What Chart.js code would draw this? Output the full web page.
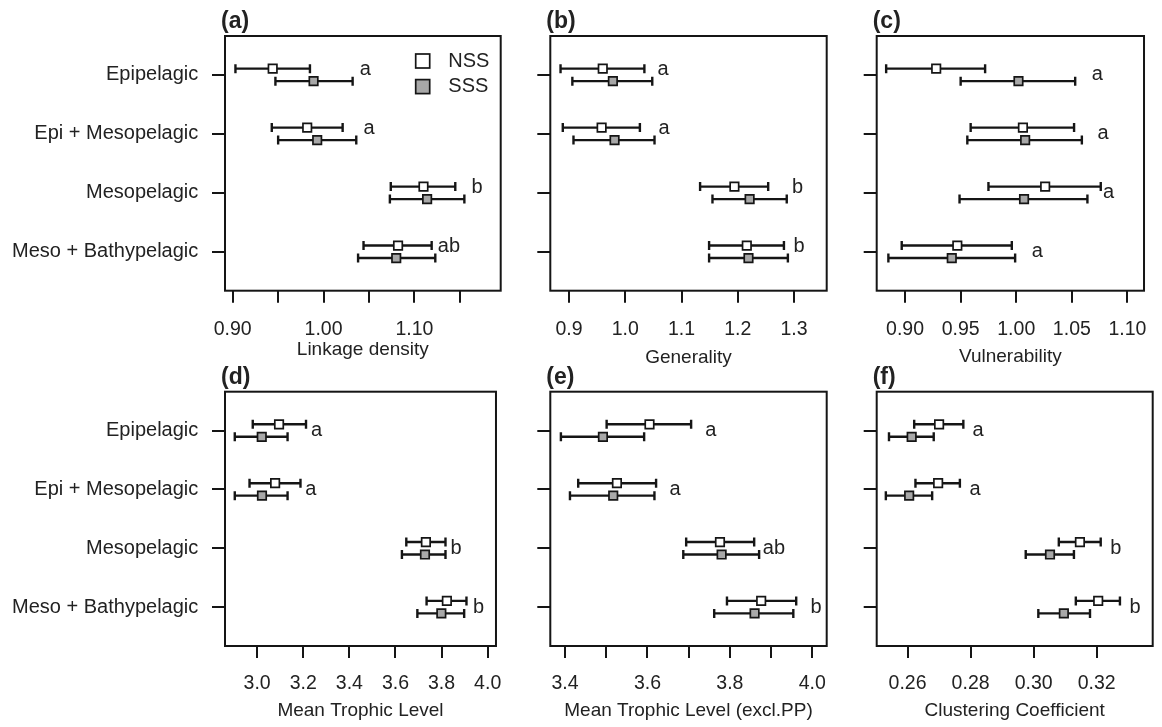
<!DOCTYPE html>
<html>
<head>
<meta charset="utf-8">
<script src="https://cdn.jsdelivr.net/npm/chart.js@4.4.1/dist/chart.umd.min.js"></script>
<style>
  body { margin: 0; background: #fff; width: 1162px; height: 727px; position: relative; overflow: hidden; }
  canvas { position: absolute; }
</style>
</head>
<body>
<script>
var zones = ['Epipelagic', 'Epi + Mesopelagic', 'Mesopelagic', 'Meso + Bathypelagic']
var groups = ['NSS', 'SSS']

// (a) Linkage density
var linkNss = [0.944, 0.982, 1.110, 1.082]
var linkNssLo = [0.903, 0.943, 1.074, 1.044]
var linkNssHi = [0.985, 1.021, 1.145, 1.119]
var linkSss = [0.989, 0.993, 1.114, 1.080]
var linkSssLo = [0.947, 0.950, 1.073, 1.038]
var linkSssHi = [1.032, 1.036, 1.155, 1.123]
var linkLetters = ['a', 'a', 'b', 'ab']
var linkLetterX = [1.046, 1.050, 1.169, 1.138]
var linkTicks = [0.90, 0.95, 1.00, 1.05, 1.10, 1.15]
var linkTickLabels = ['0.90', '', '1.00', '', '1.10', '']

// (b) Generality
var genNss = [0.960, 0.958, 1.194, 1.216]
var genNssLo = [0.885, 0.889, 1.133, 1.149]
var genNssHi = [1.034, 1.026, 1.254, 1.282]
var genSss = [0.978, 0.981, 1.221, 1.219]
var genSssLo = [0.906, 0.908, 1.155, 1.149]
var genSssHi = [1.048, 1.052, 1.287, 1.289]
var genLetters = ['a', 'a', 'b', 'b']
var genLetterX = [1.067, 1.069, 1.306, 1.309]
var genTicks = [0.9, 1.0, 1.1, 1.2, 1.3]
var genTickLabels = ['0.9', '1.0', '1.1', '1.2', '1.3']

// (c) Vulnerability
var vulNss = [0.928, 1.006, 1.026, 0.947]
var vulNssLo = [0.883, 0.959, 0.975, 0.897]
var vulNssHi = [0.972, 1.052, 1.076, 0.996]
var vulSss = [1.002, 1.008, 1.007, 0.942]
var vulSssLo = [0.950, 0.956, 0.949, 0.885]
var vulSssHi = [1.053, 1.059, 1.064, 0.999]
var vulLetters = ['a', 'a', 'a', 'a']
var vulLetterX = [1.073, 1.078, 1.083, 1.019]
var vulTicks = [0.90, 0.95, 1.00, 1.05, 1.10]
var vulTickLabels = ['0.90', '0.95', '1.00', '1.05', '1.10']

// (d) Mean Trophic Level
var mtlNss = [3.095, 3.078, 3.732, 3.823]
var mtlNssLo = [2.981, 2.967, 3.647, 3.735]
var mtlNssHi = [3.212, 3.188, 3.817, 3.908]
var mtlSss = [3.020, 3.021, 3.728, 3.799]
var mtlSssLo = [2.903, 2.903, 3.628, 3.695]
var mtlSssHi = [3.132, 3.132, 3.817, 3.898]
var mtlLetters = ['a', 'a', 'b', 'b']
var mtlLetterX = [3.258, 3.233, 3.863, 3.960]
var mtlTicks = [3.0, 3.2, 3.4, 3.6, 3.8, 4.0]
var mtlTickLabels = ['3.0', '3.2', '3.4', '3.6', '3.8', '4.0']

// (e) Mean Trophic Level (excl.PP)
var mtlxNss = [3.605, 3.526, 3.776, 3.876]
var mtlxNssLo = [3.501, 3.432, 3.694, 3.793]
var mtlxNssHi = [3.706, 3.621, 3.859, 3.961]
var mtlxSss = [3.492, 3.517, 3.780, 3.860]
var mtlxSssLo = [3.390, 3.412, 3.687, 3.762]
var mtlxSssHi = [3.592, 3.617, 3.871, 3.954]
var mtlxLetters = ['a', 'a', 'ab', 'b']
var mtlxLetterX = [3.754, 3.667, 3.907, 4.009]
var mtlxTicks = [3.4, 3.5, 3.6, 3.7, 3.8, 3.9, 4.0]
var mtlxTickLabels = ['3.4', '', '3.6', '', '3.8', '', '4.0']

// (f) Clustering Coefficient
var clusNss = [0.2700, 0.2697, 0.3147, 0.3205]
var clusNssLo = [0.2621, 0.2625, 0.3080, 0.3134]
var clusNssHi = [0.2777, 0.2766, 0.3213, 0.3274]
var clusSss = [0.2613, 0.2605, 0.3052, 0.3096]
var clusSssLo = [0.2541, 0.2531, 0.2975, 0.3015]
var clusSssHi = [0.2683, 0.2678, 0.3128, 0.3179]
var clusLetters = ['a', 'a', 'b', 'b']
var clusLetterX = [0.2824, 0.2814, 0.3261, 0.3322]
var clusTicks = [0.26, 0.28, 0.30, 0.32]
var clusTickLabels = ['0.26', '0.28', '0.30', '0.32']

var panels = [
    {tag: 'a', title: 'Linkage density', min: 0.8915, max: 1.195, letterDy: -0.09, legend: true, titlePad: 10.6,
     nss: [linkNssLo, linkNss, linkNssHi], sss: [linkSssLo, linkSss, linkSssHi],
     letters: linkLetters, letterX: linkLetterX, ticks: linkTicks, tickLabels: linkTickLabels},
    {tag: 'b', title: 'Generality', min: 0.8668, max: 1.358, letterDy: -0.09, titlePad: 3,
     nss: [genNssLo, genNss, genNssHi], sss: [genSssLo, genSss, genSssHi],
     letters: genLetters, letterX: genLetterX, ticks: genTicks, tickLabels: genTickLabels},
    {tag: 'c', title: 'Vulnerability', min: 0.8745, max: 1.1149, letterDy: 0, titlePad: 3.5,
     nss: [vulNssLo, vulNss, vulNssHi], sss: [vulSssLo, vulSss, vulSssHi],
     letters: vulLetters, letterX: vulLetterX, ticks: vulTicks, tickLabels: vulTickLabels},
    {tag: 'd', title: 'Mean Trophic Level', min: 2.8606, max: 4.036, letterDy: 0, titlePad: 4.9,
     nss: [mtlNssLo, mtlNss, mtlNssHi], sss: [mtlSssLo, mtlSss, mtlSssHi],
     letters: mtlLetters, letterX: mtlLetterX, ticks: mtlTicks, tickLabels: mtlTickLabels},
    {tag: 'e', title: 'Mean Trophic Level (excl.PP)', min: 3.3643, max: 4.035, letterDy: 0, titlePad: 4.9,
     nss: [mtlxNssLo, mtlxNss, mtlxNssHi], sss: [mtlxSssLo, mtlxSss, mtlxSssHi],
     letters: mtlxLetters, letterX: mtlxLetterX, ticks: mtlxTicks, tickLabels: mtlxTickLabels},
    {tag: 'f', title: 'Clustering Coefficient', min: 0.2502, max: 0.3378, letterDy: 0, titlePad: 4.9,
     nss: [clusNssLo, clusNss, clusNssHi], sss: [clusSssLo, clusSss, clusSssHi],
     letters: clusLetters, letterX: clusLetterX, ticks: clusTicks, tickLabels: clusTickLabels}
]

// page layout
var cols = [
    {left: 0, width: 516, axisW: 225, padR: 15.3, labels: true},
    {left: 520, width: 322, axisW: 30.3, padR: 15.3, labels: false},
    {left: 846, width: 316, axisW: 30.7, padR: 9.3, labels: false}
]
var rows = [
    {top: 0, height: 372, padTop: 36, axisH: 81.3, tickPad: 15},
    {top: 355, height: 372, padTop: 36.7, axisH: 81, tickPad: 14.3}
]

var ink = '#151515'
var textCol = '#222222'
var fam = "'Liberation Sans', Arial, sans-serif"
var fills = ['#ffffff', '#a8a8a8']
var rowOffset = [-0.106, 0.106]

Chart.defaults.font.family = fam

panels.forEach(function (p, idx) {
    var col = cols[idx % 3]
    var row = rows[Math.floor(idx / 3)]
    var canvas = document.createElement('canvas')
    canvas.width = col.width
    canvas.height = row.height
    canvas.style.left = col.left + 'px'
    canvas.style.top = row.top + 'px'
    document.body.appendChild(canvas)

    var datasets = []
    var sets = [p.nss, p.sss]
    // means first so they sit on top of the bars
    sets.forEach(function (s, k) {
        datasets.push({
            label: groups[k],
            data: s[1].map(function (v, i) { return {x: v, y: i + 1 + rowOffset[k]} }),
            pointStyle: 'rect',
            pointRadius: 6,
            pointBackgroundColor: fills[k],
            pointBorderColor: ink,
            pointBorderWidth: 1.7,
            showLine: false
        })
    })
    // error bars with caps
    sets.forEach(function (s, k) {
        s[1].forEach(function (v, i) {
            var y = i + 1 + rowOffset[k]
            datasets.push({
                data: [{x: s[0][i], y: y}, {x: s[2][i], y: y}],
                showLine: true,
                borderColor: ink,
                borderWidth: 2.4,
                pointStyle: 'line',
                pointRotation: 90,
                pointRadius: 4.5,
                pointBorderColor: ink,
                pointBorderWidth: 2.4
            })
        })
    })

    new Chart(canvas, {
        type: 'scatter',
        data: {datasets: datasets},
        options: {
            responsive: false,
            animation: false,
            events: [],
            layout: {padding: {top: row.padTop, left: 0, right: col.padR, bottom: 0}},
            plugins: {legend: {display: false}, tooltip: {enabled: false}},
            scales: {
                x: {
                    type: 'linear',
                    position: 'bottom',
                    min: p.min,
                    max: p.max,
                    afterBuildTicks: function (s) { s.ticks = p.ticks.map(function (v) { return {value: v} }) },
                    afterFit: function (s) { s.height = row.axisH },
                    grid: {drawOnChartArea: false, drawTicks: true, tickLength: 12, color: ink, lineWidth: 2},
                    border: {display: false},
                    ticks: {
                        autoSkip: false, maxRotation: 0, minRotation: 0,
                        padding: row.tickPad, color: textCol,
                        font: {size: 19.5, lineHeight: 1.2},
                        callback: function (v, i) { return p.tickLabels[i] }
                    },
                    title: {
                        display: true, text: p.title, color: textCol,
                        font: {size: 19, lineHeight: 1.2},
                        padding: {top: 0, bottom: p.titlePad}
                    }
                },
                y: {
                    type: 'linear',
                    reverse: true,
                    min: 0.34,
                    max: 4.66,
                    afterBuildTicks: function (s) { s.ticks = [1, 2, 3, 4].map(function (v) { return {value: v} }) },
                    afterFit: function (s) { s.width = col.axisW },
                    grid: {drawOnChartArea: false, drawTicks: true, tickLength: 13, color: ink, lineWidth: 2},
                    border: {display: false},
                    ticks: {
                        padding: 13.7, color: textCol,
                        font: {size: 20},
                        callback: function (v) { return col.labels ? zones[v - 1] : '' }
                    }
                }
            }
        },
        plugins: [{
            id: 'panelExtras',
            afterDraw: function (chart) {
                var ctx = chart.ctx
                var a = chart.chartArea
                var xs = chart.scales.x
                var ys = chart.scales.y
                ctx.save()
                // frame
                ctx.strokeStyle = ink
                ctx.lineWidth = 2
                ctx.strokeRect(a.left, a.top, a.right - a.left, a.bottom - a.top)
                // panel tag
                ctx.fillStyle = textCol
                ctx.textBaseline = 'middle'
                ctx.textAlign = 'left'
                ctx.font = 'bold 23px ' + fam
                ctx.fillText('(' + p.tag + ')', a.left - 4, a.top - 14)
                // significance letters
                ctx.font = '20px ' + fam
                ctx.textAlign = 'center'
                p.letters.forEach(function (t, i) {
                    ctx.fillText(t, xs.getPixelForValue(p.letterX[i]), ys.getPixelForValue(i + 1 + p.letterDy))
                })
                // legend
                if (p.legend) {
                    var lx = a.right - 78
                    groups.forEach(function (g, k) {
                        var ly = a.top + 25 + k * 25.6
                        ctx.fillStyle = fills[k]
                        ctx.fillRect(lx - 7, ly - 7, 14, 14)
                        ctx.lineWidth = 1.7
                        ctx.strokeRect(lx - 7, ly - 7, 14, 14)
                        ctx.fillStyle = textCol
                        ctx.textAlign = 'left'
                        ctx.fillText(g, a.right - 52.4, ly)
                    })
                }
                ctx.restore()
            }
        }]
    })
})
</script>
</body>
</html>
